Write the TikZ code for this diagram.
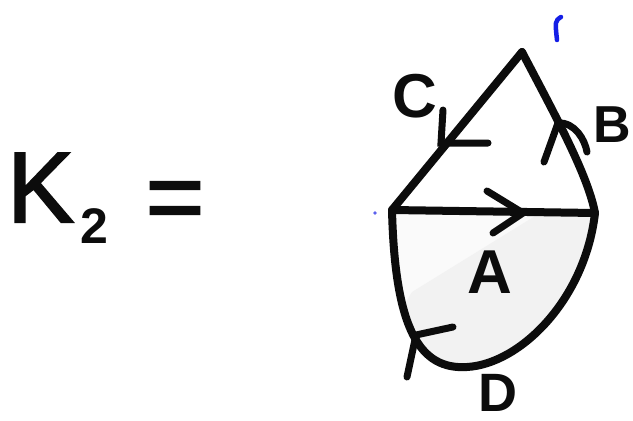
\documentclass[tikz,border=0pt]{standalone}
\usepackage{fontspec}
\setmainfont{Liberation Sans}
\newfontfamily\markerfont[FakeBold=2]{Liberation Sans}
\definecolor{ink}{RGB}{12,12,12}
\definecolor{pen}{RGB}{20,30,230}
\begin{document}
\begin{tikzpicture}[x=1pt,y=-1pt,
  stroke/.style={draw=ink, line width=8pt, line cap=round, line join=round},
  barb/.style={draw=ink, line width=7pt, line cap=round},
  lbl/.style={inner sep=0pt, text=ink, font=\bfseries\fontsize{#1}{#1}\selectfont},
  big/.style={inner sep=0pt, text=ink, font=\markerfont\fontsize{#1}{#1}\selectfont}]
\useasboundingbox (0,0) rectangle (633,421);
\fill[white] (0,0) rectangle (633,421);

% vertices
\coordinate (T) at (522,52);
\coordinate (L) at (392,210);
\coordinate (R) at (595,213);

% faint shadow in the lower region
\begin{scope}
  \clip (L) .. controls (395,330) and (420,370) .. (467,367)
        .. controls (520,364) and (585,300) .. (R) -- cycle;
  \fill[gray!4] (380,200) rectangle (640,421);
  \fill[gray!10] (412,292) -- (540,213) -- (640,213) -- (640,421) -- (380,421) -- (380,345) -- cycle;
\end{scope}

% edges
\draw[stroke] (T) -- (L);                                   % C
\draw[stroke] (R) .. controls (588,175) and (555,115) .. (T); % B
\draw[stroke] (L) -- (R);                                   % A
\draw[stroke] (L) .. controls (395,330) and (420,370) .. (467,367)
              .. controls (520,364) and (585,300) .. (R);   % D

% arrow barbs
\coordinate (ctip) at (441,143);
\coordinate (c1) at (443,110);
\coordinate (c2) at (488,143);
\draw[barb] (c1) -- (ctip) -- (c2);

\coordinate (btip) at (558,123);
\coordinate (b1) at (544,162);
\coordinate (b2) at (587,152);
\draw[barb] (b1) -- (btip);
\draw[barb] (btip) .. controls (575,122) and (585,140) .. (b2);

\coordinate (atip) at (523,213);
\coordinate (a1) at (487,191);
\coordinate (a2) at (493,233);
\draw[barb] (a1) -- (atip) -- (a2);

\coordinate (dtip) at (416,335);
\coordinate (d1) at (453,327);
\coordinate (d2) at (407,377);
\draw[barb] (d1) -- (dtip) -- (d2);

% pen marks
\coordinate (p1) at (561,17);
\coordinate (p2) at (557,40);
\draw[pen, line width=4.5pt, line cap=round] (p1) .. controls (555,21) .. (p2);
\fill[pen!70!white] (375,213) circle (1.8);

% labels
\node[big=100, anchor=base west] (K) at (7,222) {K};
\node[lbl=50, anchor=base] (sub) at (94,243) {2};
\node[big=100, anchor=base] (eq) at (175,231) {=};
\node[lbl=62, anchor=base] (C) at (415,117) {C};
\node[lbl=52, anchor=base] (B) at (612,142) {B};
\node[lbl=62, anchor=base] (A) at (490,293) {A};
\node[lbl=54, anchor=base] (D) at (498,411) {D};
\end{tikzpicture}
\end{document}
